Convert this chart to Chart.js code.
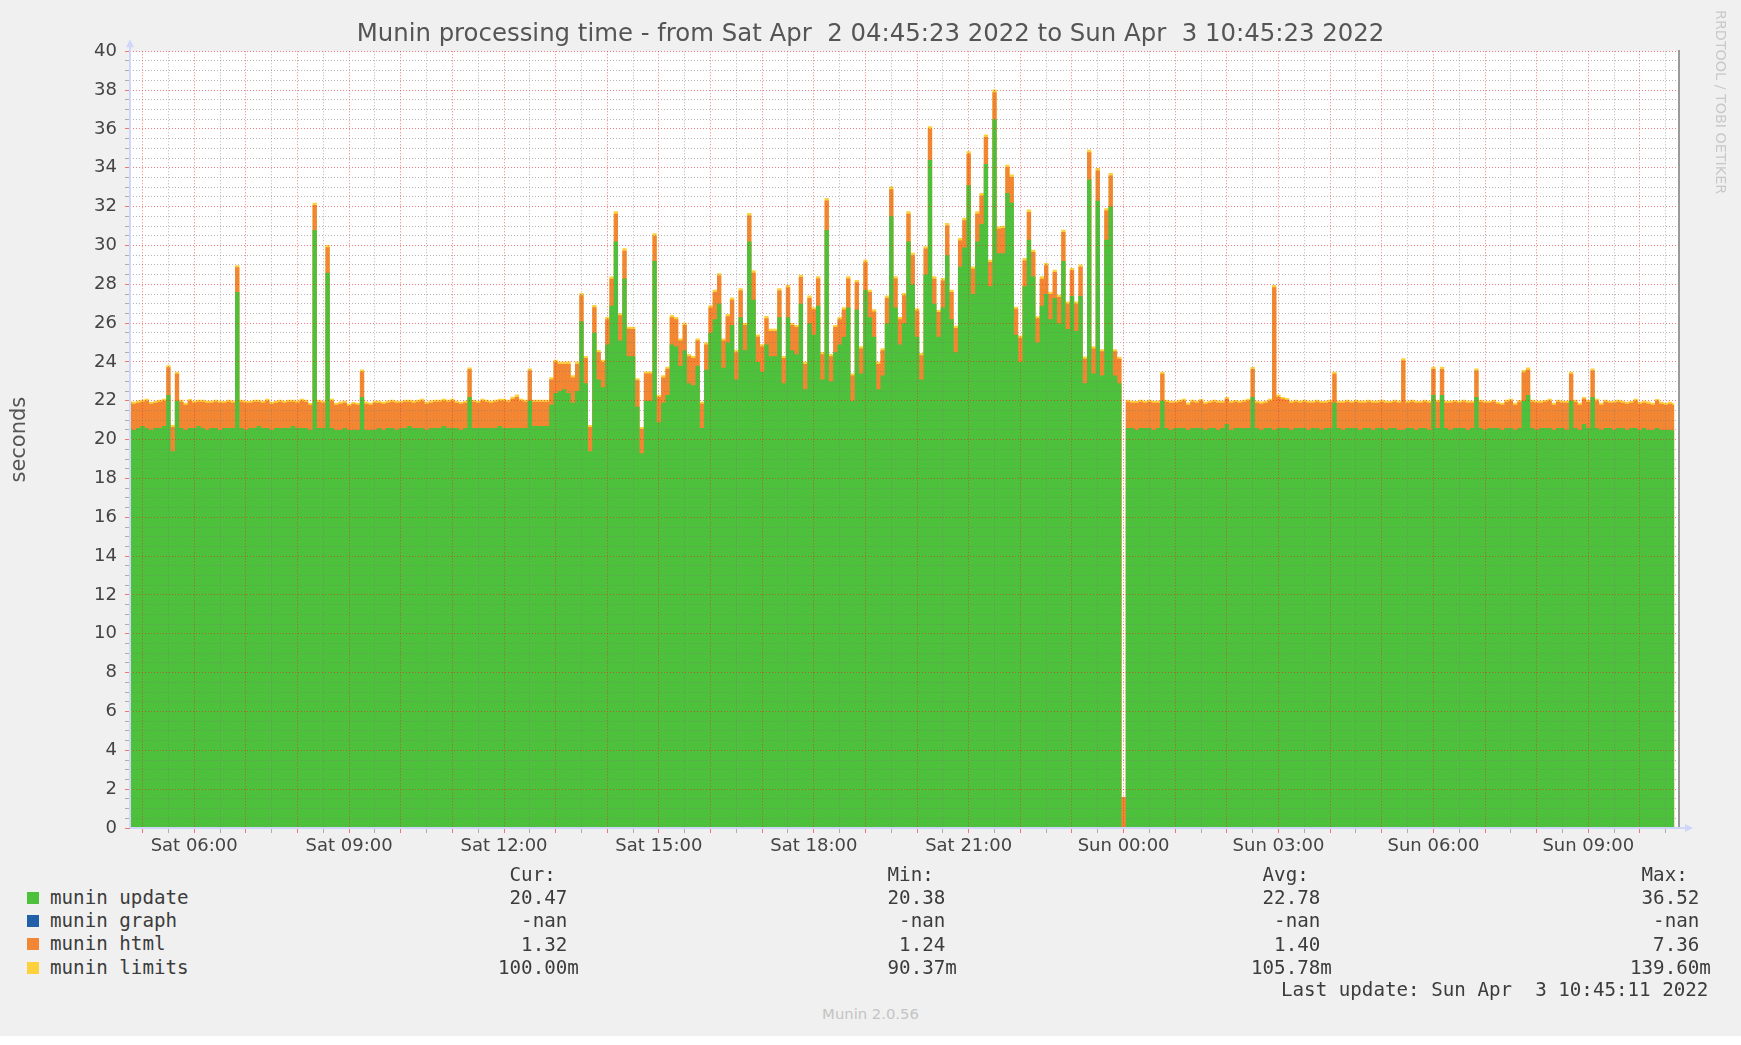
<!DOCTYPE html>
<html>
<head>
<meta charset="utf-8">
<script src="https://cdn.jsdelivr.net/npm/chart.js@4.4.1/dist/chart.umd.min.js"></script>
<style>
  body { margin: 0; background: #fff; }
  #wrap { position: relative; width: 1741px; height: 1036px; background: #f0f0f0; overflow: hidden; }
  #plot { position: absolute; left: 0; top: 0; width: 1741px; height: 872px; }
  .mono { position: absolute; margin: 0; font-family: "DejaVu Sans Mono", monospace; font-size: 19.2px; line-height: 23.2px; color: #3c3c3c; white-space: pre; }
  .swatch { position: absolute; left: 27px; width: 12px; height: 12px; }
  #rrd { position: absolute; left: 1713px; top: 10px; writing-mode: vertical-rl; font-family: "DejaVu Sans"; font-size: 14.3px; color: #c8c8c8; white-space: pre; }
  #ver { position: absolute; left: 0; top: 1005px; width: 1741px; text-align: center; font-family: "DejaVu Sans"; font-size: 14.8px; color: #c4c4c4; }
</style>
</head>
<body>
<div id="wrap">
  <div id="plot"><canvas id="myChart"></canvas></div>
  <div id="rrd">RRDTOOL / TOBI OETIKER</div>

  <div class="swatch" style="top:892px;background:#4dc13b"></div>
  <div class="swatch" style="top:915px;background:#2160a8"></div>
  <div class="swatch" style="top:938px;background:#f28633"></div>
  <div class="swatch" style="top:962px;background:#fdd13c"></div>
  <pre class="mono" style="left:50px;top:886px">munin update
munin graph
munin html
munin limits</pre>
  <pre class="mono" style="left:498px;top:863px"> Cur:
 20.47 
  -nan 
  1.32 
100.00m</pre>
  <pre class="mono" style="left:876px;top:863px"> Min:
 20.38 
  -nan 
  1.24 
 90.37m</pre>
  <pre class="mono" style="left:1251px;top:863px"> Avg:
 22.78 
  -nan 
  1.40 
105.78m</pre>
  <pre class="mono" style="left:1630px;top:863px"> Max:
 36.52 
  -nan 
  7.36 
139.60m</pre>
  <pre class="mono" style="left:1281px;top:978px">Last update: Sun Apr  3 10:45:11 2022</pre>
  <div id="ver">Munin 2.0.56</div>
</div>

<script>
// 5-minute samples, hour 4.75 = Sat 04:45, one row per hour
const sampleStart = 4.75;
const sampleStep = 5 / 60;
const rangeStart = 4 + 45 / 60 + 23 / 3600;
const rangeEnd = rangeStart + 30;

const update = [
  20.6,20.5,20.6,20.7,20.6,20.5,20.6,20.6,20.7,22.3,19.4,22.0,
  20.6,20.5,20.6,20.6,20.7,20.6,20.5,20.6,20.6,20.5,20.6,20.6,
  20.6,27.6,20.6,20.5,20.6,20.6,20.7,20.6,20.6,20.5,20.6,20.6,
  20.6,20.6,20.7,20.6,20.6,20.6,20.5,30.8,20.6,20.6,28.6,20.6,
  20.5,20.5,20.6,20.5,20.5,20.5,22.2,20.5,20.5,20.5,20.6,20.5,
  20.6,20.6,20.5,20.6,20.6,20.7,20.6,20.6,20.6,20.5,20.6,20.6,
  20.6,20.7,20.6,20.6,20.6,20.5,20.6,22.2,20.6,20.6,20.6,20.6,
  20.6,20.6,20.7,20.6,20.6,20.6,20.6,20.6,20.6,22.0,20.7,20.7,
  20.7,20.7,21.8,22.4,22.5,22.6,22.4,21.9,22.5,26.1,22.9,19.4,
  25.5,23.1,22.7,24.9,26.9,30.2,25.1,28.3,24.3,24.3,21.7,19.3,
  22.0,22.0,29.2,20.9,21.9,22.3,24.9,24.8,23.8,24.6,22.9,22.8,
  23.8,20.6,23.6,25.5,26.2,27.0,23.7,25.0,25.9,23.1,26.3,24.6,
  30.2,27.2,24.0,23.5,24.9,24.3,24.3,26.3,22.9,26.3,24.6,24.4,
  27.0,22.6,26.0,25.4,26.9,23.1,30.8,23.0,24.5,24.9,25.3,26.8,
  22.0,26.7,23.4,27.7,26.3,25.3,22.6,23.3,26.0,31.5,26.8,24.9,
  26.0,30.2,28.0,25.3,23.1,28.5,34.4,27.0,25.3,26.8,29.5,26.2,
  24.5,28.9,29.9,33.1,27.5,30.2,31.1,34.2,27.9,36.5,29.6,29.6,
  32.7,32.2,25.4,24.0,27.9,30.3,28.4,25.0,26.9,27.5,26.2,27.3,
  26.0,29.2,25.7,27.4,25.6,27.4,22.9,33.4,23.4,32.3,23.3,30.3,
  32.0,23.3,22.9,0,20.6,20.6,20.5,20.6,20.6,20.6,20.5,20.6,
  22.0,20.6,20.5,20.6,20.6,20.6,20.5,20.6,20.6,20.6,20.5,20.6,
  20.6,20.5,20.6,20.8,20.5,20.6,20.6,20.6,20.6,22.2,20.6,20.5,
  20.6,20.6,20.5,20.6,20.6,20.6,20.5,20.6,20.6,20.6,20.5,20.6,
  20.6,20.5,20.6,20.6,21.9,20.6,20.5,20.6,20.6,20.6,20.5,20.6,
  20.6,20.5,20.6,20.6,20.5,20.6,20.6,20.5,20.5,20.6,20.6,20.5,
  20.6,20.6,20.5,22.3,20.6,22.3,20.6,20.5,20.6,20.6,20.6,20.5,
  20.6,22.2,20.6,20.5,20.6,20.6,20.6,20.5,20.6,20.6,20.5,20.6,
  22.0,22.3,20.6,20.5,20.6,20.6,20.6,20.5,20.6,20.6,20.5,22.0,
  20.6,20.5,20.8,20.6,22.2,20.6,20.5,20.6,20.6,20.5,20.6,20.6,
  20.5,20.6,20.6,20.5,20.6,20.5,20.5,20.6,20.5,20.5,20.5,20.47
];

const html = [
  1.30,1.35,1.30,1.25,1.40,1.35,1.30,1.35,1.30,1.43,1.25,1.39,
  1.35,1.30,1.40,1.30,1.25,1.35,1.40,1.30,1.35,1.40,1.30,1.35,
  1.30,1.28,1.35,1.40,1.30,1.35,1.25,1.30,1.40,1.35,1.30,1.35,
  1.30,1.35,1.25,1.30,1.40,1.35,1.30,1.29,1.35,1.30,1.31,1.40,
  1.30,1.35,1.30,1.25,1.35,1.30,1.31,1.35,1.30,1.40,1.30,1.35,
  1.30,1.35,1.40,1.30,1.35,1.25,1.30,1.35,1.40,1.35,1.30,1.35,
  1.35,1.30,1.35,1.40,1.30,1.35,1.30,1.42,1.35,1.30,1.40,1.35,
  1.30,1.35,1.30,1.40,1.35,1.50,1.60,1.40,1.35,1.56,1.25,1.25,
  1.25,1.25,1.30,1.60,1.40,1.30,1.50,1.30,1.40,1.33,1.30,1.25,
  1.32,1.40,1.30,1.30,1.38,1.43,1.30,1.43,1.41,1.40,1.36,1.25,
  1.40,1.40,1.30,1.30,1.30,1.35,1.40,1.40,1.30,1.30,1.40,1.40,
  1.30,1.25,1.30,1.30,1.40,1.45,1.40,1.35,1.30,1.40,1.38,1.30,
  1.34,1.40,1.30,1.30,1.35,1.30,1.30,1.38,1.30,1.55,1.30,1.40,
  1.37,1.30,1.30,1.30,1.40,1.30,1.51,1.30,1.30,1.30,1.40,1.50,
  1.30,1.40,1.30,1.44,1.30,1.30,1.30,1.30,1.30,1.40,1.50,1.30,
  1.43,1.43,1.50,1.35,1.25,1.34,1.60,1.29,1.27,1.40,1.53,1.40,
  1.25,1.36,1.40,1.62,1.30,1.43,1.47,1.38,1.25,1.39,1.26,1.30,
  1.33,1.32,1.34,1.25,1.33,1.42,1.26,1.25,1.39,1.48,1.30,1.33,
  1.34,1.49,1.30,1.32,1.40,1.50,1.27,1.40,1.30,1.56,1.25,1.50,
  1.60,1.25,1.27,1.60,1.35,1.30,1.40,1.35,1.30,1.35,1.40,1.30,
  1.39,1.35,1.40,1.30,1.35,1.40,1.30,1.35,1.30,1.40,1.35,1.30,
  1.35,1.40,1.30,1.30,1.40,1.35,1.30,1.35,1.40,1.44,1.30,1.35,
  1.30,1.40,7.35,1.60,1.50,1.45,1.40,1.35,1.30,1.35,1.40,1.30,
  1.35,1.40,1.30,1.35,1.49,1.30,1.40,1.35,1.30,1.35,1.40,1.30,
  1.35,1.40,1.30,1.35,1.40,1.30,1.35,1.40,3.58,1.30,1.35,1.40,
  1.30,1.35,1.40,1.34,1.35,1.34,1.30,1.40,1.35,1.30,1.35,1.40,
  1.30,1.36,1.35,1.40,1.30,1.35,1.25,1.30,1.35,1.40,1.30,1.35,
  1.47,1.30,1.35,1.40,1.30,1.35,1.40,1.30,1.35,1.30,1.40,1.39,
  1.35,1.30,1.30,1.35,1.36,1.40,1.30,1.35,1.30,1.40,1.35,1.30,
  1.35,1.30,1.40,1.35,1.30,1.35,1.30,1.40,1.35,1.30,1.35,1.32
];

const limits = [
  0.10,0.10,0.11,0.10,0.10,0.09,0.10,0.11,0.10,0.10,0.10,0.11,
  0.10,0.10,0.09,0.10,0.11,0.10,0.10,0.10,0.11,0.10,0.09,0.10,
  0.11,0.10,0.10,0.10,0.09,0.10,0.11,0.10,0.10,0.10,0.10,0.11,
  0.10,0.10,0.11,0.10,0.10,0.10,0.09,0.11,0.10,0.10,0.12,0.10,
  0.10,0.11,0.10,0.10,0.09,0.10,0.10,0.11,0.10,0.10,0.10,0.10,
  0.11,0.10,0.10,0.09,0.10,0.10,0.11,0.10,0.10,0.10,0.11,0.10,
  0.10,0.10,0.10,0.11,0.10,0.09,0.10,0.10,0.11,0.10,0.10,0.10,
  0.10,0.11,0.10,0.10,0.10,0.11,0.12,0.11,0.10,0.11,0.10,0.10,
  0.10,0.10,0.11,0.12,0.11,0.11,0.12,0.11,0.11,0.12,0.11,0.10,
  0.12,0.11,0.11,0.12,0.12,0.13,0.11,0.12,0.11,0.11,0.10,0.10,
  0.11,0.11,0.13,0.10,0.11,0.11,0.12,0.12,0.11,0.12,0.11,0.11,
  0.11,0.10,0.11,0.12,0.12,0.12,0.11,0.12,0.12,0.11,0.12,0.11,
  0.13,0.12,0.11,0.11,0.12,0.11,0.11,0.12,0.11,0.12,0.11,0.11,
  0.12,0.11,0.12,0.11,0.12,0.11,0.13,0.11,0.11,0.12,0.12,0.12,
  0.11,0.12,0.11,0.12,0.12,0.11,0.11,0.11,0.12,0.13,0.12,0.11,
  0.12,0.13,0.12,0.11,0.11,0.12,0.14,0.12,0.11,0.12,0.13,0.12,
  0.11,0.12,0.13,0.13,0.12,0.13,0.13,0.14,0.12,0.14,0.12,0.12,
  0.13,0.13,0.11,0.11,0.12,0.13,0.12,0.11,0.12,0.12,0.12,0.12,
  0.12,0.12,0.11,0.12,0.11,0.12,0.11,0.13,0.11,0.13,0.11,0.12,
  0.13,0.11,0.10,0.00,0.10,0.10,0.09,0.10,0.10,0.11,0.10,0.10,
  0.11,0.10,0.10,0.09,0.10,0.10,0.11,0.10,0.10,0.09,0.10,0.10,
  0.10,0.11,0.10,0.10,0.10,0.09,0.10,0.11,0.10,0.10,0.10,0.11,
  0.10,0.10,0.12,0.11,0.10,0.10,0.09,0.10,0.10,0.11,0.10,0.10,
  0.10,0.09,0.10,0.10,0.11,0.10,0.10,0.10,0.09,0.10,0.11,0.10,
  0.10,0.10,0.11,0.10,0.10,0.09,0.10,0.10,0.11,0.10,0.10,0.10,
  0.09,0.10,0.10,0.11,0.10,0.11,0.10,0.10,0.09,0.10,0.10,0.10,
  0.10,0.11,0.10,0.10,0.09,0.10,0.10,0.10,0.11,0.10,0.10,0.09,
  0.11,0.11,0.10,0.10,0.10,0.09,0.10,0.10,0.11,0.10,0.10,0.11,
  0.10,0.10,0.10,0.09,0.11,0.10,0.10,0.10,0.09,0.10,0.10,0.10,
  0.10,0.09,0.10,0.10,0.10,0.11,0.10,0.09,0.10,0.10,0.10,0.10
];

const dayNames = ['Sat', 'Sun'];
const labelEvery = 3; // hours between time labels
const gridEvery = 0.5; // hours between vertical grid lines

const times = update.map((_, i) => sampleStart + i * sampleStep);
const toPoints = vals => vals.map((v, i) => ({ x: times[i], y: v }));

const majorGrid = 'rgba(230, 40, 40, 0.6)';
const minorGrid = 'rgba(120, 120, 120, 0.55)';
const axisColor = '#cfd6f8';

function timeLabel(value) {
  if (value % labelEvery !== 0) return '';
  const day = dayNames[Math.floor(value / 24)];
  const hh = String(value % 24).padStart(2, '0');
  return day + ' ' + hh + ':00';
}

const plotBackground = {
  id: 'plotBackground',
  beforeDraw(chart) {
    const { ctx, chartArea: a } = chart;
    ctx.save();
    ctx.fillStyle = '#ffffff';
    ctx.fillRect(a.left, a.top, a.right - a.left, a.bottom - a.top);
    ctx.restore();
  }
};

// solid axis lines with little rrdtool style arrow heads
const axisArrows = {
  id: 'axisArrows',
  afterDraw(chart) {
    const { ctx, chartArea: a } = chart;
    ctx.save();
    ctx.fillStyle = axisColor;
    ctx.fillRect(a.left - 1, a.top - 6, 2, a.bottom - a.top + 6);
    ctx.fillRect(a.left, a.bottom - 1, a.right - a.left + 6, 2);
    ctx.beginPath();
    ctx.moveTo(a.left - 4, a.top - 4);
    ctx.lineTo(a.left + 4, a.top - 4);
    ctx.lineTo(a.left, a.top - 12);
    ctx.fill();
    ctx.beginPath();
    ctx.moveTo(a.right + 6, a.bottom - 4);
    ctx.lineTo(a.right + 6, a.bottom + 4);
    ctx.lineTo(a.right + 14, a.bottom);
    ctx.fill();
    ctx.restore();
  }
};

Chart.defaults.font.family = '"DejaVu Sans", sans-serif';

const ctx = document.getElementById('myChart').getContext('2d');

const myChart = new Chart(ctx, {
  type: 'line',
  data: {
    datasets: [
      {
        label: 'munin update',
        data: toPoints(update),
        backgroundColor: '#4dc13b',
        borderWidth: 0,
        fill: 'origin',
        stepped: 'middle',
        pointRadius: 0
      },
      {
        label: 'munin html',
        data: toPoints(html),
        backgroundColor: '#f28633',
        borderWidth: 0,
        fill: 'origin',
        stepped: 'middle',
        pointRadius: 0
      },
      {
        label: 'munin limits',
        data: toPoints(limits),
        backgroundColor: '#fdd13c',
        borderWidth: 0,
        fill: 'origin',
        stepped: 'middle',
        pointRadius: 0
      }
    ]
  },
  options: {
    responsive: true,
    maintainAspectRatio: false,
    animation: false,
    layout: { padding: 0 },
    plugins: {
      legend: { display: false },
      tooltip: { enabled: false },
      title: {
        display: true,
        text: 'Munin processing time - from Sat Apr  2 04:45:23 2022 to Sun Apr  3 10:45:23 2022',
        color: '#555',
        font: { size: 24.4, weight: 'normal' },
        padding: { top: 20, bottom: 2 }
      }
    },
    scales: {
      x: {
        type: 'linear',
        min: rangeStart,
        max: rangeEnd,
        afterBuildTicks(scale) {
          const ticks = [];
          for (let h = Math.ceil(scale.min / gridEvery) * gridEvery; h <= scale.max; h += gridEvery) {
            ticks.push({ value: h });
          }
          scale.ticks = ticks;
        },
        ticks: {
          autoSkip: false,
          minRotation: 0,
          maxRotation: 0,
          color: '#444',
          font: { size: 18 },
          padding: 3,
          callback: timeLabel
        },
        grid: {
          z: 1,
          color: c => Number.isInteger(c.tick.value) ? majorGrid : minorGrid,
          tickLength: 5
        },
        border: { display: false, dash: [1, 2] },
        afterFit(scale) { scale.height = 44; }
      },
      y: {
        stacked: true,
        min: 0,
        max: 40,
        ticks: {
          stepSize: 0.5,
          autoSkip: false,
          color: '#444',
          font: { size: 18 },
          padding: 8,
          callback: v => (v % 2 === 0 ? String(v) : '')
        },
        grid: {
          z: 1,
          color: c => (c.tick.value % 2 === 0 ? majorGrid : minorGrid),
          tickLength: 5
        },
        border: { display: false, dash: [1, 2] },
        title: {
          display: true,
          text: 'seconds',
          color: '#555',
          font: { size: 21 },
          padding: { top: 7, bottom: 0 }
        },
        afterFit(scale) { scale.width = 130; }
      },
      edge: {
        position: 'right',
        min: 0,
        max: 40,
        ticks: { display: false },
        grid: { display: false, drawTicks: false },
        border: { display: true, color: '#9a9a9a', width: 2, z: 1 },
        afterFit(scale) { scale.width = 62; }
      }
    }
  },
  plugins: [plotBackground, axisArrows]
});
</script>
</body>
</html>
